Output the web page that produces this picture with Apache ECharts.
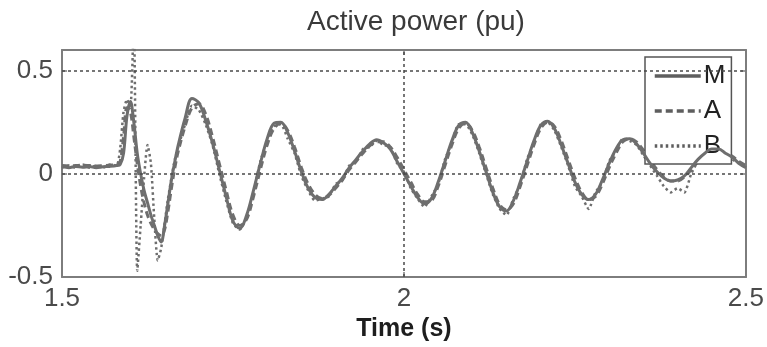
<!DOCTYPE html>
<html>
<head>
<meta charset="utf-8">
<script src="https://cdn.jsdelivr.net/npm/echarts@6/dist/echarts.min.js"></script>
<style>
  html, body { margin: 0; padding: 0; background: #fff; }
  #chart { width: 767px; height: 347px; }
</style>
</head>
<body>
<div id="chart"></div>
<script>
// Sample times (s), shared by the three traces
const timeS = [
  1.50, 1.51, 1.52, 1.53, 1.54, 1.55, 1.56, 1.57, 1.58,
  1.585, 1.59, 1.595, 1.60, 1.605, 1.61, 1.615, 1.62, 1.625, 1.63,
  1.635, 1.64, 1.645, 1.65, 1.655, 1.66, 1.665, 1.67,
  1.68, 1.69, 1.70, 1.71, 1.72, 1.73, 1.74, 1.75, 1.76, 1.77,
  1.78, 1.79, 1.80, 1.81, 1.82, 1.83, 1.84, 1.85, 1.86, 1.87,
  1.88, 1.89, 1.90, 1.91, 1.92, 1.93, 1.94, 1.95, 1.96, 1.97,
  1.98, 1.99, 2.00, 2.01, 2.02, 2.03, 2.04, 2.05, 2.06, 2.07,
  2.08, 2.09, 2.10, 2.11, 2.12, 2.13, 2.14, 2.15, 2.16, 2.17,
  2.18, 2.19, 2.20, 2.21, 2.22, 2.23, 2.24, 2.25, 2.26, 2.27,
  2.28, 2.29, 2.30, 2.31, 2.32, 2.33, 2.34, 2.35, 2.36, 2.37,
  2.38, 2.39, 2.40, 2.41, 2.42, 2.43, 2.44, 2.45, 2.46, 2.47,
  2.48, 2.49, 2.50
];

// Active power (pu), measured trace
const powerM = [
  0.035, 0.030, 0.036, 0.032, 0.035, 0.030, 0.034, 0.036, 0.040,
  0.045, 0.10, 0.28, 0.35, 0.25, 0.10, 0.00, -0.08, -0.14, -0.20,
  -0.25, -0.30, -0.33, -0.25, -0.14, -0.03, 0.06, 0.14,
  0.27, 0.365, 0.345, 0.26, 0.15, 0.02, -0.11, -0.23, -0.265, -0.20,
  -0.08, 0.05, 0.17, 0.245, 0.25, 0.20, 0.11, 0.01, -0.07, -0.115,
  -0.125, -0.10, -0.06, -0.02, 0.03, 0.07, 0.11, 0.145, 0.165, 0.15,
  0.12, 0.06, 0.00, -0.06, -0.115, -0.145, -0.12, -0.04, 0.06, 0.16,
  0.235, 0.25, 0.20, 0.11, 0.01, -0.09, -0.16, -0.18, -0.13, -0.04,
  0.06, 0.16, 0.235, 0.255, 0.22, 0.14, 0.05, -0.04, -0.10, -0.125,
  -0.10, -0.03, 0.05, 0.12, 0.165, 0.17, 0.145, 0.10, 0.05, 0.01,
  -0.02, -0.035, -0.03, -0.01, 0.03, 0.07, 0.10, 0.12, 0.12, 0.10,
  0.08, 0.05, 0.03
];

// Active power (pu), model A
const powerA = [
  0.040, 0.038, 0.040, 0.042, 0.040, 0.038, 0.040, 0.042, 0.045,
  0.06, 0.18, 0.32, 0.30, 0.18, 0.05, -0.06, -0.14, -0.20, -0.24,
  -0.27, -0.29, -0.30, -0.27, -0.18, -0.07, 0.03, 0.11,
  0.23, 0.32, 0.34, 0.29, 0.18, 0.05, -0.08, -0.20, -0.25, -0.22,
  -0.11, 0.02, 0.14, 0.22, 0.245, 0.21, 0.13, 0.03, -0.05, -0.10,
  -0.12, -0.105, -0.07, -0.03, 0.02, 0.06, 0.10, 0.135, 0.155, 0.155,
  0.13, 0.08, 0.02, -0.04, -0.10, -0.135, -0.13, -0.06, 0.04, 0.14,
  0.22, 0.245, 0.21, 0.13, 0.03, -0.07, -0.15, -0.175, -0.145, -0.06,
  0.04, 0.14, 0.22, 0.25, 0.23, 0.16, 0.07, -0.02, -0.09, -0.125,
  -0.11, -0.05, 0.03, 0.10, 0.155, 0.17, 0.155, 0.115, 0.065, 0.02,
  -0.015, -0.035, -0.035, -0.015, 0.02, 0.06, 0.095, 0.115, 0.12, 0.105,
  0.085, 0.06, 0.04
];

// Active power (pu), model B
const powerB = [
  0.030, 0.040, 0.030, 0.045, 0.030, 0.040, 0.030, 0.045, 0.040,
  0.12, 0.30, 0.36, 0.32, 0.75, -0.47, -0.25, -0.02, 0.14, 0.05,
  -0.22, -0.42, -0.36, -0.24, -0.12, -0.02, 0.07, 0.13,
  0.24, 0.33, 0.31, 0.24, 0.14, 0.00, -0.13, -0.24, -0.27, -0.21,
  -0.09, 0.06, 0.16, 0.23, 0.24, 0.17, 0.10, -0.01, -0.08, -0.13,
  -0.12, -0.11, -0.05, -0.03, 0.04, 0.06, 0.12, 0.13, 0.16, 0.14,
  0.13, 0.05, 0.01, -0.07, -0.12, -0.16, -0.11, -0.05, 0.07, 0.15,
  0.24, 0.24, 0.19, 0.10, 0.00, -0.10, -0.17, -0.20, -0.12, -0.05,
  0.07, 0.15, 0.24, 0.25, 0.21, 0.13, 0.04, -0.06, -0.11, -0.17,
  -0.09, -0.04, 0.06, 0.11, 0.17, 0.16, 0.14, 0.09, 0.04, -0.01,
  -0.06, -0.09, -0.07, -0.09, 0.00, 0.06, 0.09, 0.12, 0.11, 0.10,
  0.07, 0.05, 0.03
];

const seriesNames = ['M', 'A', 'B'];
const xTicks = [1.5, 2, 2.5];
const yTicks = [-0.5, 0, 0.5];
const gridY = [0.5, 0];
const gridX = [2];

const FONT = '"Liberation Sans", Arial, Helvetica, sans-serif';
const TRACE = '#6e6e6e';
const FRAME = '#7d7d7d';
const CLEAR = 'rgba(0,0,0,0)';

const pairs = (vals) => timeS.map((t, i) => [t, vals[i]]);

const axisCommon = {
  type: 'value',
  axisLine: { show: true, onZero: false, lineStyle: { color: FRAME, width: 2 } },
  axisTick: { show: true, inside: true, length: 5, lineStyle: { color: FRAME, width: 1.5 } },
  splitLine: { show: false }
};

const chart = echarts.init(document.getElementById('chart'), null, { renderer: 'canvas' });

chart.setOption({
  animation: false,
  backgroundColor: '#ffffff',
  title: {
    text: 'Active power (pu)',
    left: 411,
    textAlign: 'center',
    top: 3,
    textStyle: { fontFamily: FONT, fontSize: 28, fontWeight: 'normal', color: '#3a3a3a' }
  },
  grid: { left: 62, right: 19, top: 50, bottom: 69, containLabel: false },
  legend: {
    data: seriesNames,
    orient: 'vertical',
    left: 645,
    top: 57,
    padding: [6, 6, 5, 8],
    itemWidth: 46,
    itemHeight: 14,
    itemGap: 9,
    backgroundColor: '#ffffff',
    borderColor: '#555555',
    borderWidth: 1.5,
    borderRadius: 0,
    lineStyle: { width: 3.5, color: '#5e5e5e' },
    itemStyle: { color: CLEAR, borderColor: CLEAR, borderWidth: 0, opacity: 0 },
    textStyle: { fontFamily: FONT, fontSize: 26, color: '#222222', padding: [0, 0, 0, -2] }
  },
  xAxis: [
    Object.assign({}, axisCommon, {
      position: 'bottom',
      min: 1.5, max: 2.5, interval: 0.5,
      axisLabel: {
        fontFamily: FONT, fontSize: 26, color: '#4a4a4a', margin: 9,
        formatter: (v) => (xTicks.includes(v) ? String(v) : '')
      },
      name: 'Time (s)',
      nameLocation: 'middle',
      nameGap: 40,
      nameTextStyle: { fontFamily: FONT, fontSize: 25, fontWeight: 'bold', color: '#1e1e1e' }
    }),
    Object.assign({}, axisCommon, {
      position: 'top',
      min: 1.5, max: 2.5, interval: 0.5,
      axisLabel: { show: false }
    })
  ],
  yAxis: [
    Object.assign({}, axisCommon, {
      position: 'left',
      min: -0.5, max: 0.6, interval: 0.5,
      axisLabel: {
        fontFamily: FONT, fontSize: 26, color: '#4a4a4a', margin: 9,
        formatter: (v) => (yTicks.includes(v) ? String(v) : '')
      }
    }),
    Object.assign({}, axisCommon, {
      position: 'right',
      min: -0.5, max: 0.6, interval: 0.5,
      axisLabel: { show: false }
    })
  ],
  series: [
    {
      name: 'grid',
      type: 'line',
      data: [],
      z: 1,
      silent: true,
      markLine: {
        silent: true,
        symbol: ['none', 'none'],
        label: { show: false },
        lineStyle: { color: '#4a4a4a', width: 1.5, type: [3, 3] },
        data: gridY.map((v) => ({ yAxis: v })).concat(gridX.map((v) => ({ xAxis: v })))
      }
    },
    {
      name: 'M', type: 'line', data: pairs(powerM), symbol: 'none', smooth: 0.35, clip: true, z: 4,
      lineStyle: { color: TRACE, width: 3 }, itemStyle: { color: CLEAR, borderWidth: 0 }
    },
    {
      name: 'A', type: 'line', data: pairs(powerA), symbol: 'none', smooth: 0.35, clip: true, z: 3,
      lineStyle: { color: TRACE, width: 3, type: [7, 4] }, itemStyle: { color: CLEAR, borderWidth: 0 }
    },
    {
      name: 'B', type: 'line', data: pairs(powerB), symbol: 'none', smooth: 0.2, clip: true, z: 3,
      lineStyle: { color: TRACE, width: 2.5, type: [2.5, 3] }, itemStyle: { color: CLEAR, borderWidth: 0 }
    }
  ]
});
</script>
</body>
</html>
